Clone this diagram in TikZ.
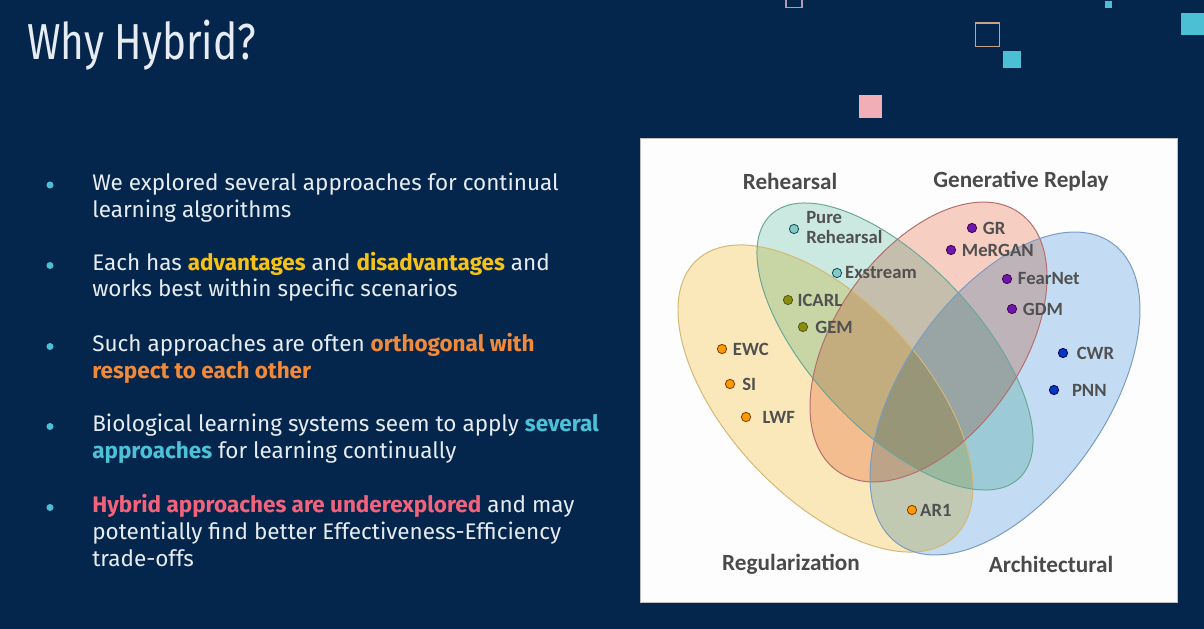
\documentclass[tikz,border=0pt]{standalone}
\usepackage{fontspec}
\setmainfont{Fira Sans}
\newfontfamily\vennfont{Carlito}
\usetikzlibrary{positioning}
\definecolor{bg}{HTML}{04264C}
\definecolor{fgtext}{HTML}{E6ECF2}
\definecolor{bulletcyan}{HTML}{4BBFD3}
\definecolor{hlyellow}{HTML}{F6C21A}
\definecolor{hlorange}{HTML}{F08A3A}
\definecolor{hlcyan}{HTML}{4CC2D8}
\definecolor{hlpink}{HTML}{F2627A}
\definecolor{sqpink}{HTML}{F2AEB6}
\definecolor{sqtan}{HTML}{C9A184}
\definecolor{sqmauve}{HTML}{B49AB4}
\definecolor{panelbg}{HTML}{FDFDFD}
\definecolor{regfill}{HTML}{FCEABD}
\definecolor{rehfill}{HTML}{CDEBE2}
\definecolor{genfill}{HTML}{F9D0C4}
\definecolor{arcfill}{HTML}{C6DEF5}
\definecolor{regline}{HTML}{D2B978}
\definecolor{rehline}{HTML}{6AA896}
\definecolor{genline}{HTML}{B46E6E}
\definecolor{arcline}{HTML}{7A9CC2}
\definecolor{vennlabel}{HTML}{4A4A4A}
\definecolor{itemlabel}{HTML}{505050}

\begin{document}
\begin{tikzpicture}[
    x=0.025cm, y=-0.025cm,
    every node/.style={text=fgtext},
    bullettext/.style={
        anchor=base west, align=left, inner sep=0pt,
        font=\fontsize{16}{19}\selectfont,
    },
    bulletdot/.style={circle, fill=bulletcyan, inner sep=0pt, minimum size=5pt},
    vennset/.style={blend mode=multiply},
    heading/.style={font=\vennfont\bfseries\fontsize{16.5}{18}\selectfont, text=vennlabel},
    item/.style={font=\vennfont\bfseries\fontsize{13.3}{14.5}\selectfont, text=itemlabel,
        inner sep=0pt, align=left},
    dot/.style={circle, inner sep=0pt, minimum size=6.6pt, line width=0.6pt},
    regdot/.style={dot, fill=orange!80!yellow, draw=orange!50!black},
    rehdot/.style={dot, fill=teal!45!white, draw=teal!70!black},
    olivedot/.style={dot, fill=olive!85!green, draw=olive!50!black},
    gendot/.style={dot, fill=violet!70!blue!90!white, draw=violet!60!black},
    arcdot/.style={dot, fill=blue!70!cyan!75!black, draw=blue!40!black},
]

% Background
\useasboundingbox (0,0) rectangle (1204,629);
\clip (0,0) rectangle (1204,629);
\fill[bg] (0,0) rectangle (1204,629);

% decorative squares
\draw[sqmauve, line width=1.2pt] (786,-10) rectangle (802,7.5);
\draw[sqtan, line width=1.2pt] (975.5,23) rectangle (999.5,46.5);
\fill[bulletcyan] (1002.5,51) rectangle (1020.5,68.5);
\fill[sqpink] (859,95.5) rectangle (882,118.5);
\fill[bulletcyan] (1105,1.5) rectangle (1112,8);
\fill[bulletcyan] (1181,13.5) rectangle (1210,35.5);

% Title
\node[anchor=base west, inner sep=0pt, font=\fontsize{36}{40}\selectfont] (title) at (27,60)
    {\scalebox{0.8}[1]{Why Hybrid?}};

% =============================================================
% LEFT COLUMN: bullet list (nodes sit on their last baseline)
% =============================================================
\node[bulletdot] (b1) at (50,185) {};
\node[bullettext] (t1) at (92,217.3) {
    We explored several approaches for continual\\
    learning algorithms
};

\node[bulletdot] (b2) at (50,265.5) {};
\node[bullettext] (t2) at (92,297) {
    Each has \textcolor{hlyellow}{\textbf{advantages}} and \textcolor{hlyellow}{\textbf{disadvantages}} and\\
    works best within specific scenarios
};

\node[bulletdot] (b3) at (50,346.5) {};
\node[bullettext] (t3) at (92,378.3) {
    Such approaches are often \textcolor{hlorange}{\textbf{orthogonal with}}\\
    \textcolor{hlorange}{\textbf{respect to each other}}
};

\node[bulletdot] (b4) at (50,426.5) {};
\node[bullettext] (t4) at (92,458.5) {
    Biological learning systems seem to apply \textcolor{hlcyan}{\textbf{several}}\\
    \textcolor{hlcyan}{\textbf{approaches}} for learning continually
};

\node[bulletdot] (b5) at (50,507.5) {};
\node[bullettext] (t5) at (92,566.2) {
    \textcolor{hlpink}{\textbf{Hybrid approaches are underexplored}} and may\\
    potentially find better Effectiveness-Efficiency\\
    trade-offs
};

% =============================================================
% RIGHT PANEL: four-set Venn diagram
% =============================================================
\draw[panelbg, fill=panelbg] (640,138) rectangle (1177,602);
\draw[black!25, line width=0.5pt] (640,138) rectangle (1177,602);

% set fills
\fill[vennset, regfill, rotate around={-47:(825.5,398.5)}]
    (825.5,398.5) ellipse [x radius=189, y radius=98];
\fill[vennset, rehfill, rotate around={-46.7:(895,346.5)}]
    (895,346.5) ellipse [x radius=181, y radius=83];
\fill[vennset, genfill, rotate around={54.9:(928.5,342)}]
    (928.5,342) ellipse [x radius=158, y radius=93];
\fill[vennset, arcfill, rotate around={54.6:(1005,393.5)}]
    (1005,393.5) ellipse [x radius=184.6, y radius=101];

% set outlines
\draw[regline, line width=0.7pt, rotate around={-47:(825.5,398.5)}]
    (825.5,398.5) ellipse [x radius=189, y radius=98];
\draw[rehline, line width=0.7pt, rotate around={-46.7:(895,346.5)}]
    (895,346.5) ellipse [x radius=181, y radius=83];
\draw[genline, line width=0.7pt, rotate around={54.9:(928.5,342)}]
    (928.5,342) ellipse [x radius=158, y radius=93];
\draw[arcline, line width=0.7pt, rotate around={54.6:(1005,393.5)}]
    (1005,393.5) ellipse [x radius=184.6, y radius=101];

% set names
\node[heading] (rehname) at (790,181) {Rehearsal};
\node[heading] (genname) at (1021,181) {Generative Replay};
\node[heading] (regname) at (791,564) {Regularization};
\node[heading] (arcname) at (1051,564) {Architectural};

% methods
\node[rehdot] (pure) at (794,229) {};
\node[item, anchor=north west] (purelbl) at (806,211) {Pure\\Rehearsal};
\node[rehdot] (exstream) at (837,273) {};
\node[item, right=2pt of exstream] (exstreamlbl) {Exstream};

\node[olivedot] (icarl) at (788,300) {};
\node[item, right=3pt of icarl] (icarllbl) {ICARL};
\node[olivedot] (gem) at (803,327) {};
\node[item, right=5pt of gem] (gemlbl) {GEM};

\node[gendot] (gr) at (972,228) {};
\node[item, right=4pt of gr] (grlbl) {GR};
\node[gendot] (mergan) at (951,250) {};
\node[item, right=4pt of mergan] (merganlbl) {MeRGAN};
\node[gendot] (fearnet) at (1007,279) {};
\node[item, right=4pt of fearnet] (fearnetlbl) {FearNet};
\node[gendot] (gdm) at (1012,309) {};
\node[item, right=4pt of gdm] (gdmlbl) {GDM};

\node[regdot] (ewc) at (722,349) {};
\node[item, right=4pt of ewc] (ewclbl) {EWC};
\node[regdot] (si) at (730,384) {};
\node[item, right=5pt of si] (silbl) {SI};
\node[regdot] (lwf) at (746,417) {};
\node[item, right=8pt of lwf] (lwflbl) {LWF};

\node[arcdot] (cwr) at (1063,353) {};
\node[item, right=6pt of cwr] (cwrlbl) {CWR};
\node[arcdot] (pnn) at (1054,390) {};
\node[item, right=9pt of pnn] (pnnlbl) {PNN};

\node[regdot] (ar1) at (912,510) {};
\node[item, right=2pt of ar1] (ar1lbl) {AR1};

\end{tikzpicture}
\end{document}
